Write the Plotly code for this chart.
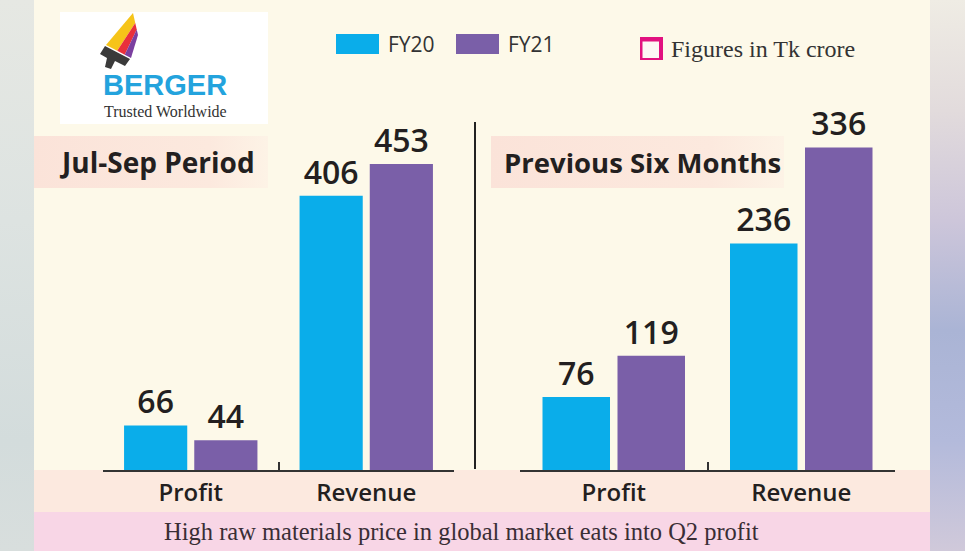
import base64
import plotly.graph_objects as go

# ---------------- data ----------------
periods = ["Jul-Sep Period", "Previous Six Months"]
categories = ["Profit", "Revenue"]
series_names = ["FY20", "FY21"]
fy20_julsep = [66, 406]
fy21_julsep = [44, 453]
fy20_six = [76, 236]
fy21_six = [119, 336]
unit_note = "Figures in Tk crore"
caption = "High raw materials price in global market eats into Q2 profit"
brand = "BERGER"
tagline = "Trusted Worldwide"

# ---------------- style ----------------
W, H = 965, 551
C_FY20 = "#0aadea"
C_FY21 = "#7a5fa8"
CREAM = "#fdf9e9"
PEACH = "#fce9df"
PINK = "#f8d6e6"
DARK = "#231f20"
SANS = "Open Sans, Noto Sans, sans-serif"
SERIF = "Liberation Serif, DejaVu Serif, serif"


def px(x):
    return x / W


def py(y):
    return 1 - y / H


def svg_uri(svg):
    return "data:image/svg+xml;base64," + base64.b64encode(svg.encode()).decode()


def vgrad(stops):
    s = "".join(f'<stop offset="{o}" stop-color="{c}"/>' for o, c in stops)
    return svg_uri(
        '<svg xmlns="http://www.w3.org/2000/svg" width="10" height="100" preserveAspectRatio="none">'
        f'<defs><linearGradient id="g" x1="0" y1="0" x2="0" y2="1">{s}</linearGradient></defs>'
        '<rect width="10" height="100" fill="url(#g)"/></svg>')


def hgrad(stops):
    s = "".join(f'<stop offset="{o}" stop-color="{c}"/>' for o, c in stops)
    return svg_uri(
        '<svg xmlns="http://www.w3.org/2000/svg" width="100" height="10" preserveAspectRatio="none">'
        f'<defs><linearGradient id="g" x1="0" y1="0" x2="1" y2="0">{s}</linearGradient></defs>'
        '<rect width="100" height="10" fill="url(#g)"/></svg>')


fig = go.Figure()

left = [(fy20_julsep, "x", "y"), (fy21_julsep, "x", "y")]
right = [(fy20_six, "x2", "y2"), (fy21_six, "x2", "y2")]
colors = [C_FY20, C_FY21]

for group in (left, right):
    for i, (vals, xa, ya) in enumerate(group):
        fig.add_trace(go.Bar(
            x=categories, y=vals, name=series_names[i], xaxis=xa, yaxis=ya,
            marker=dict(color=colors[i], line=dict(width=0)),
            texttemplate="%{y}", textposition="outside", cliponaxis=False,
            textfont=dict(family=SANS, size=32, color=DARK, weight=600),
            showlegend=False, hoverinfo="x+y",
        ))

base_y = py(470)
top_y = py(120)
axis_common = dict(
    type="category", showline=True, linecolor="#333", linewidth=2,
    ticks="inside", tickson="boundaries", ticklen=8, tickwidth=2, tickcolor="#333",
    showgrid=False, zeroline=False,
    tickfont=dict(family=SANS, size=24, color=DARK, weight=600),
)

fig.update_layout(
    width=W, height=H, margin=dict(l=0, r=0, t=0, b=0),
    paper_bgcolor=CREAM, plot_bgcolor="rgba(0,0,0,0)",
    barmode="group", bargap=0.2, bargroupgap=0.1,
    xaxis=dict(domain=[px(103), px(454)], anchor="y", **axis_common),
    xaxis2=dict(domain=[px(520), px(895)], anchor="y2", **axis_common),
    yaxis=dict(domain=[base_y, top_y], range=[0, 518], visible=False, anchor="x"),
    yaxis2=dict(domain=[base_y, top_y], range=[0, 364.6], visible=False, anchor="x2"),
)

shapes = []
images = []

# side bands (blurred background)
images.append(dict(source=vgrad([(0, "#e6e8e3"), (0.4, "#dde3e1"), (0.8, "#d3dcdc"), (1, "#d8dedd")]),
                   xref="paper", yref="paper", x=0, y=1, sizex=px(34), sizey=1,
                   sizing="stretch", xanchor="left", yanchor="top", layer="below"))
images.append(dict(source=vgrad([(0, "#efece4"), (0.2, "#e2dbdc"), (0.4, "#cdc6da"), (0.6, "#aab4d5"),
                                 (0.8, "#b3badb"), (1, "#d0c9da")]),
                   xref="paper", yref="paper", x=px(930), y=1, sizex=px(35), sizey=1,
                   sizing="stretch", xanchor="left", yanchor="top", layer="below"))

# bottom bands
shapes.append(dict(type="rect", xref="paper", yref="paper", x0=px(34), x1=px(930), y0=py(512), y1=py(470),
                   fillcolor=PEACH, line=dict(width=0), layer="below"))
shapes.append(dict(type="rect", xref="paper", yref="paper", x0=px(34), x1=px(930), y0=0, y1=py(512),
                   fillcolor=PINK, line=dict(width=0), layer="below"))

# panel title boxes
for x0, x1 in ((34, 268), (491, 784)):
    images.append(dict(source=hgrad([(0, "#fbe3d9"), (0.75, "#fce9de"), (1, "#fdf3e6")]),
                       xref="paper", yref="paper", x=px(x0), y=py(136), sizex=px(x1 - x0), sizey=52 / H,
                       sizing="stretch", xanchor="left", yanchor="top", layer="below"))

# logo box
shapes.append(dict(type="rect", xref="paper", yref="paper", x0=px(60), x1=px(268), y0=py(124), y1=py(12),
                   fillcolor="#ffffff", line=dict(width=0), layer="below"))


def path(points):
    return "M " + " L ".join(f"{px(x):.5f},{py(y):.5f}" for x, y in points) + " Z"


# brush icon
TL, TR, BR, BL = (133, 13), (138, 35), (131, 58), (106, 45)


def lerp(a, b, t):
    return (a[0] + (b[0] - a[0]) * t, a[1] + (b[1] - a[1]) * t)


fr = [0, 0.45, 0.75, 1]
for i, col in enumerate(["#f6c419", "#e9303b", "#7b3fa0"]):
    p = [lerp(TL, TR, fr[i]), lerp(TL, TR, fr[i + 1]), lerp(BL, BR, fr[i + 1]), lerp(BL, BR, fr[i])]
    shapes.append(dict(type="path", xref="paper", yref="paper", path=path(p),
                       fillcolor=col, line=dict(width=0)))
shapes.append(dict(type="path", xref="paper", yref="paper",
                   path=path([(105, 46), (130, 59), (125, 66), (115, 61), (111, 69), (105, 67), (107, 58), (100, 54)]),
                   fillcolor="#3a3a3a", line=dict(width=0)))

# legend swatches
shapes.append(dict(type="rect", xref="paper", yref="paper", x0=px(336), x1=px(379), y0=py(54), y1=py(34),
                   fillcolor=C_FY20, line=dict(width=0)))
shapes.append(dict(type="rect", xref="paper", yref="paper", x0=px(456), x1=px(499), y0=py(54), y1=py(34),
                   fillcolor=C_FY21, line=dict(width=0)))
# unit icon
shapes.append(dict(type="rect", xref="paper", yref="paper", x0=px(640), x1=px(663), y0=py(60), y1=py(37),
                   fillcolor="#e2117f", line=dict(width=0)))
shapes.append(dict(type="rect", xref="paper", yref="paper", x0=px(642.5), x1=px(659), y0=py(58), y1=py(41.5),
                   fillcolor="#fdf6f4", line=dict(width=0)))

# divider
shapes.append(dict(type="line", xref="paper", yref="paper", x0=px(475), x1=px(475), y0=py(469), y1=py(122),
                   line=dict(color="#222", width=2)))

annotations = [
    dict(text=periods[0], x=px(57), y=py(162), xanchor="left", yanchor="middle",
         font=dict(family=SANS, size=28, color=DARK, weight=700)),
    dict(text=periods[1], x=px(502), y=py(162), xanchor="left", yanchor="middle",
         font=dict(family=SANS, size=27.5, color=DARK, weight=700)),
    dict(text=series_names[0], x=px(386), y=py(44), xanchor="left", yanchor="middle",
         font=dict(family=SANS, size=21, color="#333")),
    dict(text=series_names[1], x=px(506), y=py(44), xanchor="left", yanchor="middle",
         font=dict(family=SANS, size=21, color="#333")),
    dict(text=unit_note, x=px(669), y=py(49), xanchor="left", yanchor="middle",
         font=dict(family=SERIF, size=24, color="#333")),
    dict(text=caption, x=px(461), y=py(531), xanchor="center", yanchor="middle",
         font=dict(family=SERIF, size=24.5, color="#3a2e35")),
    dict(text=brand, x=px(165), y=py(85), xanchor="center", yanchor="middle",
         font=dict(family="Liberation Sans, Arial, sans-serif", size=29, color="#23a3dd", weight=700)),
    dict(text=tagline, x=px(165), y=py(112), xanchor="center", yanchor="middle",
         font=dict(family=SERIF, size=16, color="#333")),
]
for a in annotations:
    a.update(xref="paper", yref="paper", showarrow=False)

fig.update_layout(shapes=shapes, images=images, annotations=annotations)

fig.write_html("out.html", config={"displayModeBar": False},
               post_script="document.body.style.margin='0';document.body.style.overflow='hidden';")
